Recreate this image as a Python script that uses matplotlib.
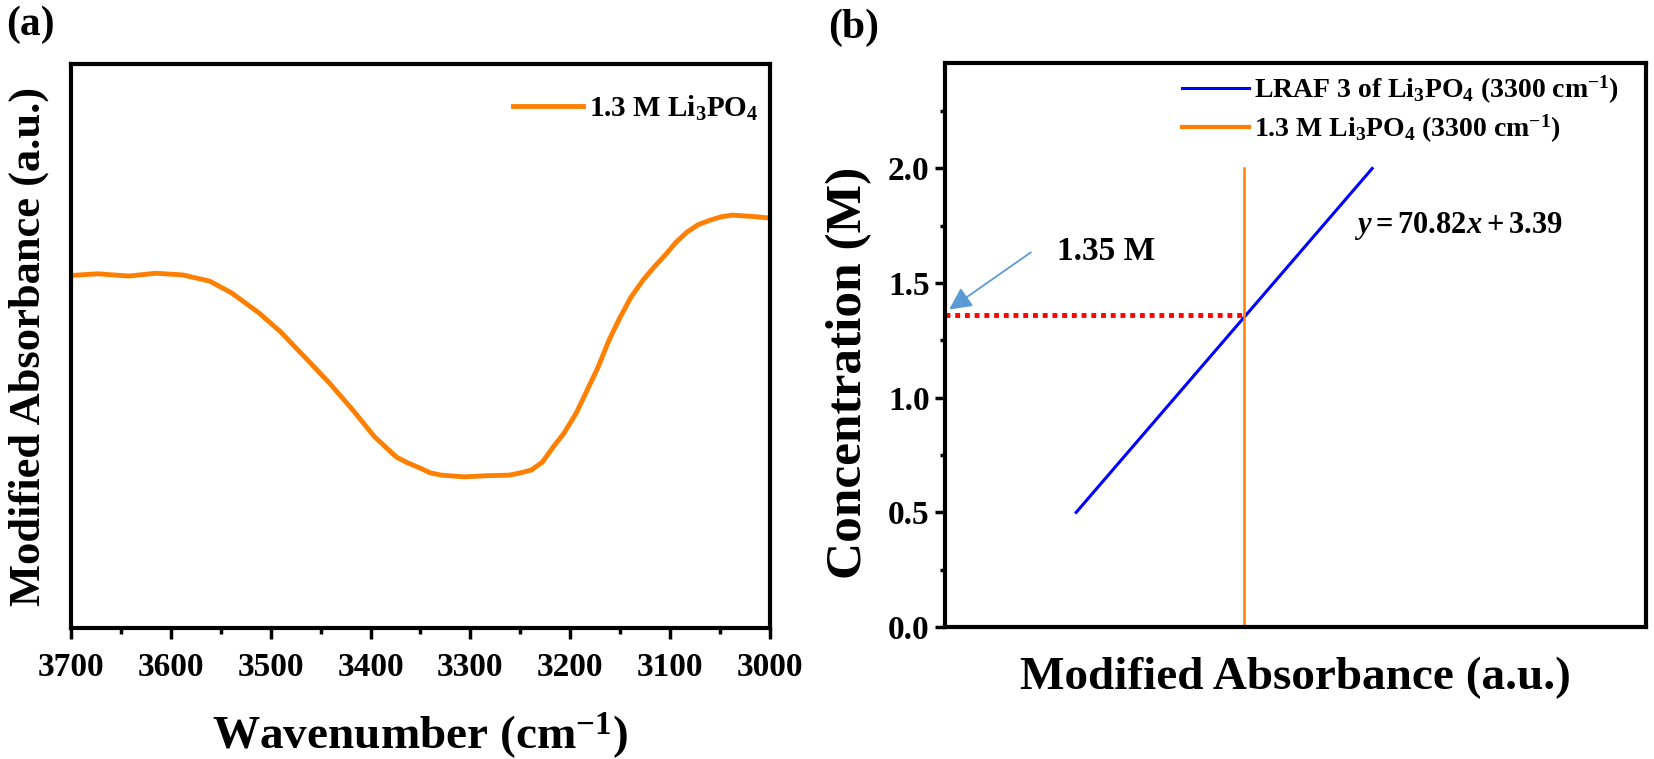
"""
FTIR 吸收谱与浓度标定图 (a) 光谱 (b) 标定直线
"""
import matplotlib
matplotlib.use("Agg")
import matplotlib.pyplot as plt
from matplotlib.ticker import MultipleLocator, FormatStrFormatter

plt.rcParams['font.family'] = ['Liberation Serif', 'DejaVu Serif']
plt.rcParams['font.weight'] = 'bold'
plt.rcParams['mathtext.fontset'] = 'custom'
plt.rcParams['mathtext.rm'] = 'Liberation Serif:bold'
plt.rcParams['mathtext.bf'] = 'Liberation Serif:bold'
plt.rcParams['mathtext.it'] = 'Liberation Serif:bold:italic'

# (a) 1.3 M Li3PO4 光谱 (读图估计, 任意单位)
wavenumber = [3700, 3673, 3642, 3615, 3588, 3561, 3539, 3512, 3490, 3463,
              3441, 3418, 3396, 3385, 3374, 3363, 3351, 3340, 3329, 3306,
              3284, 3261, 3250, 3239, 3228, 3217, 3206, 3194, 3184, 3172,
              3161, 3150, 3139, 3127, 3116, 3105, 3094, 3083, 3072, 3060,
              3049, 3038, 3020, 3000]
absorbance = [0.625, 0.628, 0.624, 0.629, 0.626, 0.615, 0.594, 0.559, 0.525, 0.475,
              0.434, 0.387, 0.339, 0.321, 0.303, 0.293, 0.284, 0.275, 0.271, 0.268,
              0.270, 0.271, 0.275, 0.280, 0.294, 0.321, 0.346, 0.381, 0.418, 0.463,
              0.511, 0.551, 0.587, 0.617, 0.640, 0.661, 0.684, 0.702, 0.715, 0.723,
              0.729, 0.732, 0.730, 0.727]

# (b) 标定直线 y = 70.82x + 3.39
fit_absorbance = [-0.0408, -0.0196]
fit_conc = [0.5, 2.0]
sample_absorbance = -0.0288
sample_conc = 1.36
sample_top = 2.0

ORANGE = '#FF8000'
BLUE = '#0000FF'

fig = plt.figure(figsize=(16.54, 7.59), dpi=100)
ax1 = fig.add_axes([0.0429, 0.1726, 0.4226, 0.7431])
ax2 = fig.add_axes([0.5713, 0.1739, 0.4238, 0.7431])

for ax in (ax1, ax2):
    for sp in ax.spines.values():
        sp.set_linewidth(3)

# ---- (a) ----
ax1.plot(wavenumber, absorbance, color=ORANGE, lw=3.5, label=r'1.3 M Li$_3$PO$_4$')
ax1.set_xlim(3700, 3000)
ax1.set_ylim(0, 1)
ax1.xaxis.set_major_locator(MultipleLocator(100))
ax1.xaxis.set_minor_locator(MultipleLocator(50))
ax1.set_yticks([])
ax1.tick_params(axis='x', which='major', direction='out', length=8, width=2.5,
                labelsize=24, pad=9)
ax1.tick_params(axis='x', which='minor', direction='out', length=4, width=2.5)
ax1.set_xlabel(r'Wavenumber (cm$^{-1}$)', fontsize=34, fontweight='bold')
ax1.xaxis.label.set_va('center')
ax1.xaxis.set_label_coords(0.5, -0.19)
ax1.set_ylabel('Modified Absorbance (a.u.)', fontsize=32, fontweight='bold')
ax1.yaxis.label.set_va('center')
ax1.yaxis.set_label_coords(-0.06, 0.5)
leg1 = ax1.legend(loc='center left', bbox_to_anchor=(0.632, 0.922), frameon=False,
                  fontsize=21, handlelength=2.4, handletextpad=0.2,
                  borderpad=0, borderaxespad=0)

# ---- (b) ----
ax2.plot(fit_absorbance, fit_conc, color=BLUE, lw=2.2,
         label=r'LRAF 3 of Li$_3$PO$_4$ (3300 cm$^{-1}$)')
ax2.plot([sample_absorbance, sample_absorbance], [0, sample_top], color=ORANGE, lw=1.8,
         label=r'1.3 M Li$_3$PO$_4$ (3300 cm$^{-1}$)')
ax2.plot([-0.0502, sample_absorbance], [sample_conc, sample_conc], color='#FF0000',
         lw=3.5, linestyle=(0, (1, 1)))
ax2.set_xlim(-0.0502, 0.0)
ax2.set_ylim(0, 2.46)
ax2.set_xticks([])
ax2.yaxis.set_major_locator(MultipleLocator(0.5))
ax2.yaxis.set_minor_locator(MultipleLocator(0.25))
ax2.yaxis.set_major_formatter(FormatStrFormatter('%.1f'))
ax2.tick_params(axis='y', which='major', direction='out', length=7, width=2.5,
                labelsize=24, pad=4)
ax2.tick_params(axis='y', which='minor', direction='out', length=3.5, width=2.5)
ax2.set_xlabel('Modified Absorbance (a.u.)', fontsize=34, fontweight='bold')
ax2.xaxis.label.set_va('center')
ax2.xaxis.set_label_coords(0.5, -0.09)
ax2.set_ylabel('Concentration (M)', fontsize=37, fontweight='bold')
ax2.yaxis.label.set_va('center')
ax2.yaxis.set_label_coords(-0.137, 0.45)

ax2.annotate('', xy=(-0.0499, 1.385), xytext=(-0.04405, 1.634),
             arrowprops=dict(arrowstyle='-|>', color='#5B9BD5', lw=1.3,
                             mutation_scale=34, shrinkA=0, shrinkB=0))
ax2.text(-0.04219, 1.638, '1.35 M', fontsize=24, fontweight='bold',
         ha='left', va='center')
ax2.text(-0.02093, 1.747, r'$y=70.82x+3.39$', fontsize=22,
         ha='left', va='center')

leg2 = ax2.legend(loc='center left', bbox_to_anchor=(0.338, 0.918), frameon=False,
                  fontsize=20, handlelength=2.4, handletextpad=0.2,
                  borderpad=0, borderaxespad=0, labelspacing=0.25)
leg2.get_lines()[1].set_linewidth(3)

fig.text(0.0187, 0.967, '(a)', fontsize=30, fontweight='bold', ha='center', va='center')
fig.text(0.5163, 0.964, '(b)', fontsize=30, fontweight='bold', ha='center', va='center')

fig.savefig('out.png', dpi=100)
